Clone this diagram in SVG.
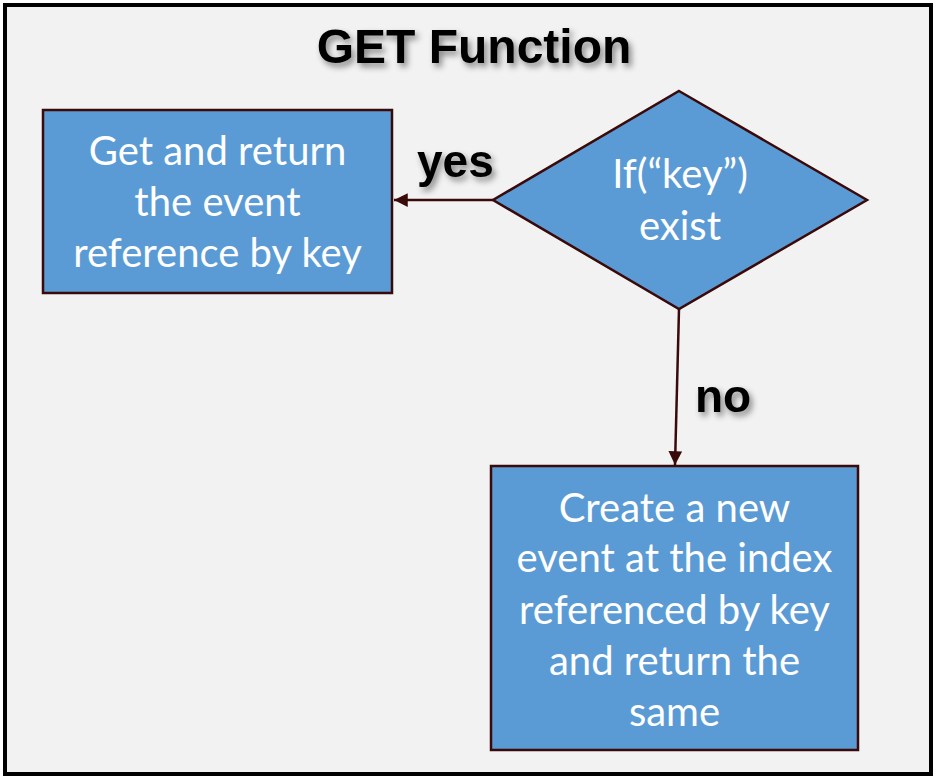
<svg xmlns="http://www.w3.org/2000/svg" width="936" height="779" viewBox="0 0 936 779">
<defs>
<style>
.frame{fill:#f2f2f2;stroke:#000;stroke-width:4}
.node{fill:#5b9bd5;stroke:#3a0a0a;stroke-width:2.5}
.nt{font-family:Lato,"Liberation Sans",sans-serif;font-size:40px;fill:#fff;text-anchor:middle}
.bold{font-family:"Liberation Sans",Arial,sans-serif;font-weight:bold;fill:#000;filter:url(#sh)}
.conn{stroke:#3a0a0a;stroke-width:2.5;fill:none;marker-end:url(#ah)}
</style>
<filter id="sh" x="-20%" y="-30%" width="140%" height="170%">
<feDropShadow dx="3" dy="4" stdDeviation="3" flood-color="#000" flood-opacity="0.45"/>
</filter>
<marker id="ah" viewBox="0 0 10 10" refX="10" refY="5" markerWidth="5.5" markerHeight="5.5" orient="auto" markerUnits="strokeWidth">
<path d="M0,0 L10,5 L0,10 Z" fill="#3a0a0a"/>
</marker>
</defs>
<rect class="frame" x="5" y="5" width="926" height="769"/>
<text class="bold" x="474" y="63" font-size="48" text-anchor="middle">GET Function</text>
<g id="connectors">
<line class="conn" x1="493" y1="200" x2="394" y2="200"/>
<line class="conn" x1="679" y1="309" x2="675" y2="465"/>
<text class="bold" x="417" y="177" font-size="46">yes</text>
<text class="bold" x="695" y="412" font-size="46">no</text>
</g>
<g id="get-return">
<rect class="node" x="43" y="110" width="349" height="183"/>
<text class="nt" x="217.5" y="165">Get and return</text>
<text class="nt" x="217.5" y="216">the event</text>
<text class="nt" x="217.5" y="267">reference by key</text>
</g>
<g id="if-key">
<polygon class="node" points="679,91 867,200 679,309 493,200"/>
<text class="nt" x="680" y="188">If(“key”)</text>
<text class="nt" x="680" y="240">exist</text>
</g>
<g id="create-new">
<rect class="node" x="491" y="466" width="367" height="284"/>
<text class="nt" x="674.5" y="522">Create a new</text>
<text class="nt" x="674.5" y="572">event at the index</text>
<text class="nt" x="674.5" y="624">referenced by key</text>
<text class="nt" x="674.5" y="675">and return the</text>
<text class="nt" x="674.5" y="726">same</text>
</g>
</svg>
